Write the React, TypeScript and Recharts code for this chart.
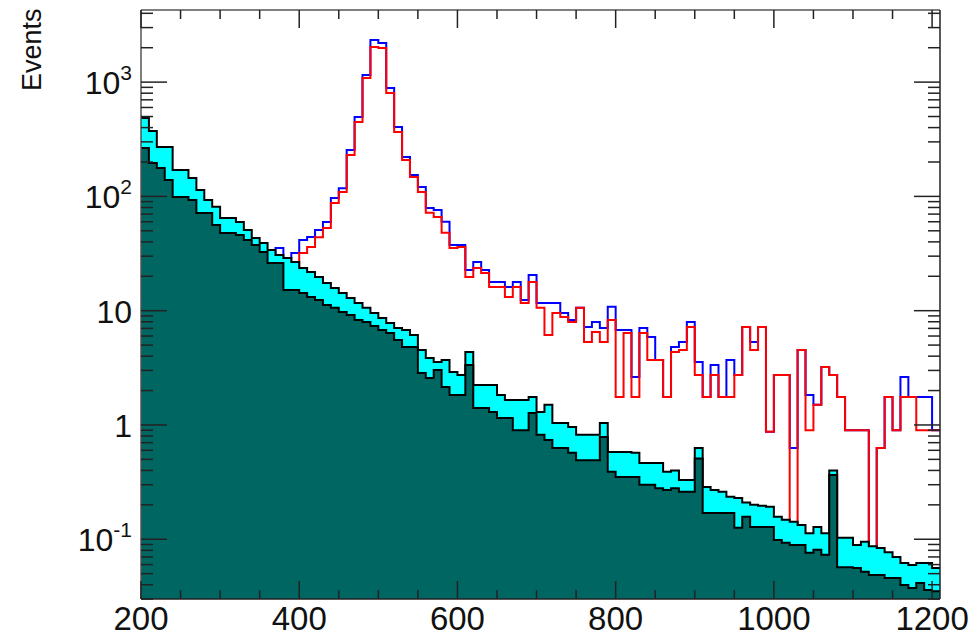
import { ComposedChart, Area, Line, XAxis, YAxis } from 'recharts';

const W = 973;
const H = 636;

// lower bin edges (GeV), last edge closes the final bin
const binEdges = [
  200, 210, 220, 230, 240, 250, 260, 270, 280, 290,
  300, 310, 320, 330, 340, 350, 360, 370, 380, 390,
  400, 410, 420, 430, 440, 450, 460, 470, 480, 490,
  500, 510, 520, 530, 540, 550, 560, 570, 580, 590,
  600, 610, 620, 630, 640, 650, 660, 670, 680, 690,
  700, 710, 720, 730, 740, 750, 760, 770, 780, 790,
  800, 810, 820, 830, 840, 850, 860, 870, 880, 890,
  900, 910, 920, 930, 940, 950, 960, 970, 980, 990,
  1000, 1010, 1020, 1030, 1040, 1050, 1060, 1070, 1080, 1090,
  1100, 1110, 1120, 1130, 1140, 1150, 1160, 1170, 1180, 1190,
  1200,
];
const lastEdge = 1210;

// dark teal background
const bkgDark = [
  265, 196, 177, 139, 98.8, 98.8, 93, 71.6, 71.6, 56.2,
  47.8, 47.8, 45.9, 41.6, 37.6, 32.6, 26.1, 26.1, 15.2, 15.2,
  14.3, 13.2, 12.4, 11.2, 10.6, 9.73, 9.17, 8.29, 7.96, 7.35,
  6.78, 6.38, 5.54, 4.81, 4.81, 2.85, 2.58, 3.03, 2.15, 1.83,
  1.83, 3.35, 1.41, 1.41, 1.3, 1.15, 1.15, 0.9, 0.9, 1.27,
  0.82, 0.74, 0.63, 0.63, 0.57, 0.49, 0.49, 0.49, 0.785, 0.39,
  0.35, 0.35, 0.35, 0.3, 0.3, 0.28, 0.27, 0.28, 0.26, 0.26,
  0.51, 0.17, 0.17, 0.17, 0.17, 0.126, 0.157, 0.128, 0.128, 0.128,
  0.0986, 0.093, 0.089, 0.089, 0.076, 0.081, 0.073, 0.365, 0.057, 0.057,
  0.056, 0.052, 0.0487, 0.0487, 0.0459, 0.0459, 0.0398, 0.0375, 0.0415, 0.036,
  0.035,
];

// cyan stacked total
const bkgTotal = [
  485, 373, 271, 271, 170, 170, 145, 114, 93, 81,
  64.7, 64.7, 59.7, 50.8, 43.3, 39.1, 34, 30.7, 28.9, 26.7,
  23.6, 21.8, 19.7, 17.5, 15.8, 14.3, 12.9, 11.7, 10.6, 9.55,
  8.63, 7.8, 7.06, 6.78, 6.13, 4.53, 3.86, 3.56, 3.71, 2.91,
  2.74, 4.35, 2.24, 2.24, 2.24, 1.83, 1.65, 1.65, 1.65, 1.76,
  1.3, 1.5, 1.04, 1.04, 0.96, 0.82, 0.82, 0.82, 1.04, 0.58,
  0.58, 0.58, 0.57, 0.465, 0.465, 0.465, 0.39, 0.4, 0.33, 0.33,
  0.63, 0.287, 0.27, 0.26, 0.235, 0.23, 0.21, 0.2, 0.196, 0.192,
  0.157, 0.148, 0.142, 0.133, 0.113, 0.128, 0.113, 0.4, 0.103, 0.103,
  0.089, 0.095, 0.087, 0.084, 0.077, 0.07, 0.062, 0.0596, 0.062, 0.062,
  0.056,
];

const N = null;

const sigRed = [
  N, N, N, N, N, N, N, N, N, N,
  N, N, N, N, N, N, N, N, N, 8,
  32, 36, 44, 53, 87.5, 109, 230, 448, 1086, 2028,
  1988, 803, 366, 208, 148, 109, 72, 66, 48, 35.4,
  36, 19.7, 23.6, 21.4, 16.1, 16.1, 13.2, 16.1, 11.7, 17.8,
  10.6, 6.13, 9.55, 8.81, 7.96, 10.6, 5.32, 6.51, 5.32, 8.29,
  1.76, 6.38, 1.76, 6.38, 3.71, 3.71, 1.76, 4.35, 4.53, 7.2,
  2.74, 1.76, 2.74, 1.76, 1.76, 2.74, 7.2, 4.53, 7.2, 0.87,
  2.74, 2.74, 0.1, 4.53, 0.9, 1.5, 3.22, 2.74, 1.76, 0.9,
  0.9, 0.9, 0.05, 0.63, 1.76, 0.9, 1.76, 1.76, 0.9, 0.9,
  0.9,
];

const sigBlue = [
  N, N, N, N, N, N, N, N, N, N,
  N, N, N, N, N, N, 12, 35.4, 14, 32,
  41.6, 44.2, 50.8, 59.7, 97, 118, 255, 495, 1154, 2335,
  2198, 888, 405, 221, 154, 121, 79, 76, 60, 37.6,
  37.6, 22.7, 26.7, 22.7, 17.8, 17.8, 16.1, 17.8, 12.4, 20.5,
  11.7, 11.7, 11.7, 9.55, 8.3, 10.6, 7.2, 7.96, 7.06, 10.8,
  6.78, 6.78, 2.63, 7.06, 5.89, 3.71, 1.76, 4.8, 5.32, 7.96,
  3.56, 1.76, 3.35, 1.76, 3.71, 2.74, 7.2, 5.32, 7.2, 0.87,
  2.74, 2.74, 0.63, 4.53, 1.83, 1.5, 3.22, 2.74, 1.76, 0.9,
  0.9, 0.9, 0.05, 0.63, 1.76, 0.9, 2.63, 1.76, 1.76, 1.76,
  0.9,
];

const xTicks = [
  200, 250, 300, 350, 400, 450, 500, 550, 600, 650, 700,
  750, 800, 850, 900, 950, 1000, 1050, 1100, 1150, 1200,
];
const xMajor = [200, 400, 600, 800, 1000, 1200];

const yTicks = [
  0.03, 0.04, 0.05, 0.06, 0.07, 0.08, 0.09,
  0.1, 0.2, 0.3, 0.4, 0.5, 0.6, 0.7, 0.8, 0.9,
  1, 2, 3, 4, 5, 6, 7, 8, 9,
  10, 20, 30, 40, 50, 60, 70, 80, 90,
  100, 200, 300, 400, 500, 600, 700, 800, 900,
  1000, 2000, 3000, 4000,
];
// decade ticks: [value, base, exponent]
const yLabels: [number, string, string][] = [
  [0.1, '10', '-1'],
  [1, '1', ''],
  [10, '10', ''],
  [100, '10', '2'],
  [1000, '10', '3'],
];

const rows = binEdges.map((x, i) => ({
  x,
  dark: bkgDark[i],
  total: bkgTotal[i],
  red: sigRed[i],
  blue: sigBlue[i],
}));
const last = rows[rows.length - 1];
const data = [...rows, { ...last, x: lastEdge }];

const FONT = '"Liberation Sans", Arial, Helvetica, sans-serif';
const TICK = '#222';

function BottomTick(props: any) {
  const { x, y, payload } = props;
  const major = xMajor.includes(payload.value);
  return (
    <g>
      <line x1={x} x2={x} y1={y} y2={y - (major ? 18 : 9)} stroke={TICK} strokeWidth={1.5} />
      {major && (
        <text x={x} y={y + 31} textAnchor="middle" fontSize={33} fontFamily={FONT} fill="#111">
          {payload.value}
        </text>
      )}
    </g>
  );
}

function TopTick(props: any) {
  const { x, y, payload } = props;
  const major = xMajor.includes(payload.value);
  return <line x1={x} x2={x} y1={y} y2={y + (major ? 18 : 9)} stroke={TICK} strokeWidth={1.5} />;
}

function LeftTick(props: any) {
  const { x, y, payload } = props;
  const lab = yLabels.find((l) => Math.abs(l[0] - payload.value) < 1e-9);
  return (
    <g>
      <line x1={x} x2={x + (lab ? 26 : 12)} y1={y} y2={y} stroke={TICK} strokeWidth={1.5} />
      {lab && (
        <text x={x - 9} y={y + 12} textAnchor="end" fontSize={32} fontFamily={FONT} fill="#111">
          <tspan>{lab[1]}</tspan>
          {lab[2] && (
            <tspan dy={-14} fontSize={21}>
              {lab[2]}
            </tspan>
          )}
        </text>
      )}
    </g>
  );
}

function RightTick(props: any) {
  const { x, y, payload } = props;
  const major = yLabels.some((l) => Math.abs(l[0] - payload.value) < 1e-9);
  return <line x1={x} x2={x - (major ? 26 : 12)} y1={y} y2={y} stroke={TICK} strokeWidth={1.5} />;
}

function EventsLabel() {
  return (
    <text
      x={41}
      y={91}
      transform="rotate(-90 41 91)"
      textAnchor="start"
      fontSize={27}
      fontFamily={FONT}
      fill="#111"
    >
      Events
    </text>
  );
}

export default function App() {
  return (
    <div style={{ position: 'absolute', left: 0, top: 0, width: W, height: H, background: '#fff' }}>
      <ComposedChart width={W} height={H} data={data} margin={{ top: 9, right: 32, bottom: 0, left: 0 }}>
        <XAxis
          xAxisId="b"
          dataKey="x"
          type="number"
          domain={[200, lastEdge]}
          allowDataOverflow
          ticks={xTicks}
          interval={0}
          height={37}
          tickSize={0}
          tickMargin={0}
          tick={<BottomTick />}
          axisLine={{ stroke: '#222', strokeWidth: 1.5 }}
          tickLine={false}
        />
        <XAxis
          xAxisId="t"
          orientation="top"
          dataKey="x"
          type="number"
          domain={[200, lastEdge]}
          allowDataOverflow
          ticks={xTicks}
          interval={0}
          height={1}
          tickSize={0}
          tickMargin={0}
          tick={<TopTick />}
          axisLine={{ stroke: '#555', strokeWidth: 1.5 }}
          tickLine={false}
        />
        <YAxis
          yAxisId="l"
          scale="log"
          type="number"
          domain={[0.03, 4276]}
          allowDataOverflow
          ticks={yTicks}
          interval={0}
          width={141}
          tickSize={0}
          tickMargin={0}
          tick={<LeftTick />}
          axisLine={{ stroke: '#555', strokeWidth: 1.5 }}
          tickLine={false}
          label={{ value: 'Events', content: <EventsLabel /> }}
        />
        <YAxis
          yAxisId="r"
          orientation="right"
          scale="log"
          type="number"
          domain={[0.03, 4276]}
          allowDataOverflow
          ticks={yTicks}
          interval={0}
          width={1}
          tickSize={0}
          tickMargin={0}
          tick={<RightTick />}
          axisLine={{ stroke: '#222', strokeWidth: 1.5 }}
          tickLine={false}
        />
        <Line
          xAxisId="b"
          yAxisId="l"
          dataKey="blue"
          type="stepAfter"
          stroke="#0000ff"
          strokeWidth={2}
          dot={false}
          isAnimationActive={false}
          zIndex={10}
        />
        <Line
          xAxisId="b"
          yAxisId="l"
          dataKey="red"
          type="stepAfter"
          stroke="#ff0000"
          strokeWidth={2}
          dot={false}
          isAnimationActive={false}
          zIndex={20}
        />
        <Area
          xAxisId="b"
          yAxisId="l"
          dataKey="total"
          type="stepAfter"
          stroke="#000"
          strokeWidth={2}
          fill="#00ffff"
          fillOpacity={1}
          baseValue="dataMin"
          isAnimationActive={false}
          zIndex={30}
        />
        <Area
          xAxisId="b"
          yAxisId="l"
          dataKey="dark"
          type="stepAfter"
          stroke="#000"
          strokeWidth={2}
          fill="#006661"
          fillOpacity={1}
          baseValue="dataMin"
          isAnimationActive={false}
          zIndex={40}
        />
      </ComposedChart>
    </div>
  );
}
